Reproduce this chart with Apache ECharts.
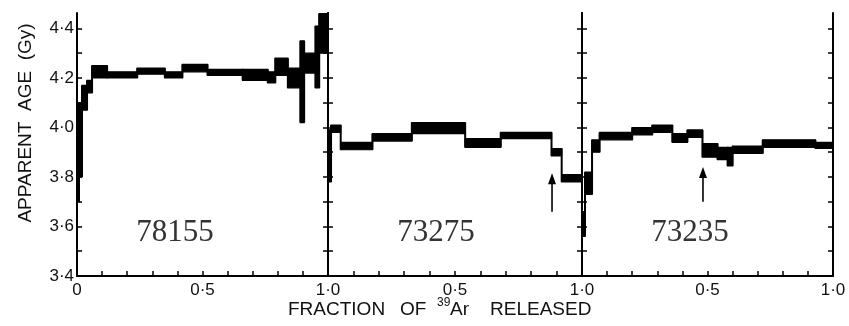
<!DOCTYPE html>
<html>
<head>
<meta charset="utf-8">
<script src="https://cdn.jsdelivr.net/npm/echarts@6/dist/echarts.min.js"></script>
<style>
  html, body { margin: 0; padding: 0; background: #fff; }
  #main { width: 849px; height: 326px; }
</style>
</head>
<body>
<div id="main"></div>
<script>
// step boundaries (fraction of 39Ar released) and age band (Gy) for each sample
const edges78155 = [0, 0.008, 0.02, 0.04, 0.06, 0.12, 0.24, 0.35, 0.42, 0.52, 0.66, 0.76, 0.79, 0.84, 0.89, 0.905, 0.95, 0.965, 1.0];
const lo78155 = [3.70, 3.80, 4.07, 4.14, 4.20, 4.20, 4.215, 4.20, 4.225, 4.21, 4.19, 4.18, 4.21, 4.16, 4.02, 4.22, 4.16, 4.30];
const hi78155 = [3.98, 4.10, 4.17, 4.19, 4.25, 4.225, 4.24, 4.225, 4.255, 4.235, 4.235, 4.225, 4.28, 4.24, 4.35, 4.30, 4.41, 4.46];

const edges73275 = [0, 0.012, 0.05, 0.175, 0.33, 0.54, 0.68, 0.88, 0.92, 1.0];
const lo73275 = [3.78, 3.98, 3.91, 3.945, 3.975, 3.92, 3.955, 3.885, 3.78];
const hi73275 = [3.99, 4.01, 3.94, 3.975, 4.02, 3.955, 3.98, 3.915, 3.81];

const edges73235 = [0, 0.012, 0.04, 0.07, 0.2, 0.28, 0.36, 0.42, 0.48, 0.54, 0.58, 0.6, 0.72, 0.93, 1.0];
const lo73235 = [3.56, 3.73, 3.90, 3.95, 3.97, 3.98, 3.94, 3.96, 3.88, 3.87, 3.845, 3.895, 3.92, 3.915];
const hi73235 = [3.66, 3.82, 3.95, 3.98, 4.00, 4.01, 3.975, 3.99, 3.935, 3.92, 3.92, 3.925, 3.95, 3.94];

const sampleNames = ['78155', '73275', '73235'];

// arrows (panel index, fraction, tail age, head age)
const arrowPanel = [1, 2];
const arrowX = [0.882, 0.482];
const arrowTail = [3.66, 3.70];
const arrowHead = [3.815, 3.84];

const yTicks = [3.4, 3.5, 3.6, 3.7, 3.8, 3.9, 4.0, 4.1, 4.2, 4.3, 4.4];
const yLabels = [3.4, 3.6, 3.8, 4.0, 4.2, 4.4];
const xTicks = [0.1, 0.2, 0.3, 0.4, 0.5, 0.6, 0.7, 0.8, 0.9];

const chart = echarts.init(document.getElementById('main'));

const fmt = v => (v === 0 ? '0' : v.toFixed(1).replace('.', '\u00b7'));
const sans = 'Liberation Sans';

function stepData(edges, lo, hi) {
  const out = [];
  for (let i = 0; i < lo.length; i++) {
    const pLo = i > 0 ? lo[i - 1] : lo[i];
    const pHi = i > 0 ? hi[i - 1] : hi[i];
    out.push([edges[i], edges[i + 1], lo[i], hi[i], pLo, pHi]);
  }
  return out;
}

function renderStep(params, api) {
  const x0 = api.value(0), x1 = api.value(1);
  const lo = api.value(2), hi = api.value(3);
  const pLo = api.value(4), pHi = api.value(5);
  const a = api.coord([x0, hi]);
  const b = api.coord([x1, lo]);
  const top = api.coord([x0, Math.max(hi, pHi)]);
  const bot = api.coord([x0, Math.min(lo, pLo)]);
  return {
    type: 'group',
    children: [
      { type: 'rect', shape: { x: a[0], y: a[1], width: Math.max(b[0] - a[0], 2), height: b[1] - a[1] },
        style: { fill: '#000', stroke: '#000', lineWidth: 1.2 } },
      { type: 'rect', shape: { x: top[0] - 1, y: top[1], width: 2, height: bot[1] - top[1] }, style: { fill: '#000' } }
    ]
  };
}

function renderArrow(params, api) {
  const t = api.coord([api.value(0), api.value(1)]);
  const h = api.coord([api.value(0), api.value(2)]);
  return {
    type: 'group',
    children: [
      { type: 'line', shape: { x1: t[0], y1: t[1], x2: h[0], y2: h[1] + 8 }, style: { stroke: '#000', lineWidth: 1.6 } },
      { type: 'polygon', shape: { points: [[h[0], h[1]], [h[0] - 4, h[1] + 11], [h[0] + 4, h[1] + 11]] }, style: { fill: '#000' } }
    ]
  };
}

const panels = [
  { left: 77, width: 251, data: stepData(edges78155, lo78155, hi78155), xl: [0, 0.5, 1] },
  { left: 328, width: 254, data: stepData(edges73275, lo73275, hi73275), xl: [0.5, 1] },
  { left: 582, width: 251, data: stepData(edges73235, lo73235, hi73235), xl: [0.5, 1] }
];

const axisLine = { show: true, lineStyle: { color: '#000', width: 2 } };
const tickStyle = { color: '#000', width: 1.5 };

const grid = [], xAxis = [], yAxis = [], series = [];
panels.forEach((p, i) => {
  grid.push({ left: p.left, width: p.width, top: 13, height: 263 });
  xAxis.push({
    type: 'value', gridIndex: i, min: 0, max: 1,
    axisLine: axisLine,
    axisTick: { show: true, inside: true, length: 5, customValues: xTicks, lineStyle: tickStyle },
    axisLabel: { customValues: p.xl, formatter: fmt, fontFamily: sans, fontSize: 17, color: '#111', margin: 6 },
    splitLine: { show: false }
  });
  ['left', 'right'].forEach(pos => {
    yAxis.push({
      type: 'value', gridIndex: i, position: pos, min: 3.4, max: 4.4625,
      axisLine: axisLine,
      axisTick: { show: true, inside: true, length: 5, customValues: yTicks, lineStyle: tickStyle },
      axisLabel: (i === 0 && pos === 'left')
        ? { customValues: yLabels, formatter: fmt, fontFamily: sans, fontSize: 17, color: '#111', margin: 3 }
        : { show: false },
      splitLine: { show: false }
    });
  });
  series.push({
    type: 'custom', xAxisIndex: i, yAxisIndex: i * 2,
    renderItem: renderStep,
    encode: { x: [0, 1], y: [2, 3] },
    data: p.data,
    silent: true
  });
});

arrowPanel.forEach((pi, k) => {
  series.push({
    type: 'custom', xAxisIndex: pi, yAxisIndex: pi * 2,
    renderItem: renderArrow,
    encode: { x: 0, y: [1, 2] },
    data: [[arrowX[k], arrowTail[k], arrowHead[k]]],
    silent: true
  });
});

const textStyle = (txt, x, y, size, extra) => Object.assign({
  type: 'text', x: x, y: y,
  style: { text: txt, font: size + 'px "' + sans + '"', fill: '#111', textAlign: 'left', textVerticalAlign: 'middle', align: 'left', verticalAlign: 'middle' }
}, extra || {});

const graphic = [
  // sample labels
  { type: 'text', x: 175, y: 233, style: { text: sampleNames[0], font: '31px "Liberation Serif"', fill: '#333', textAlign: 'center', textVerticalAlign: 'middle', align: 'center', verticalAlign: 'middle' } },
  { type: 'text', x: 436, y: 233, style: { text: sampleNames[1], font: '31px "Liberation Serif"', fill: '#333', textAlign: 'center', textVerticalAlign: 'middle', align: 'center', verticalAlign: 'middle' } },
  { type: 'text', x: 690, y: 233, style: { text: sampleNames[2], font: '31px "Liberation Serif"', fill: '#333', textAlign: 'center', textVerticalAlign: 'middle', align: 'center', verticalAlign: 'middle' } },
  // x axis title
  textStyle('FRACTION', 288, 310, 19),
  textStyle('OF', 400, 310, 19),
  textStyle('39', 437, 303, 12),
  textStyle('Ar', 450, 310, 19),
  textStyle('RELEASED', 490, 310, 19),
  // y axis title
  { type: 'text', x: 26, y: 123, rotation: Math.PI / 2,
    style: { text: 'APPARENT  AGE  (Gy)', font: '19px "' + sans + '"', fill: '#111', textAlign: 'center', textVerticalAlign: 'middle', align: 'center', verticalAlign: 'middle' } }
];

chart.setOption({
  animation: false,
  grid: grid,
  xAxis: xAxis,
  yAxis: yAxis,
  series: series,
  graphic: graphic
});
</script>
</body>
</html>
